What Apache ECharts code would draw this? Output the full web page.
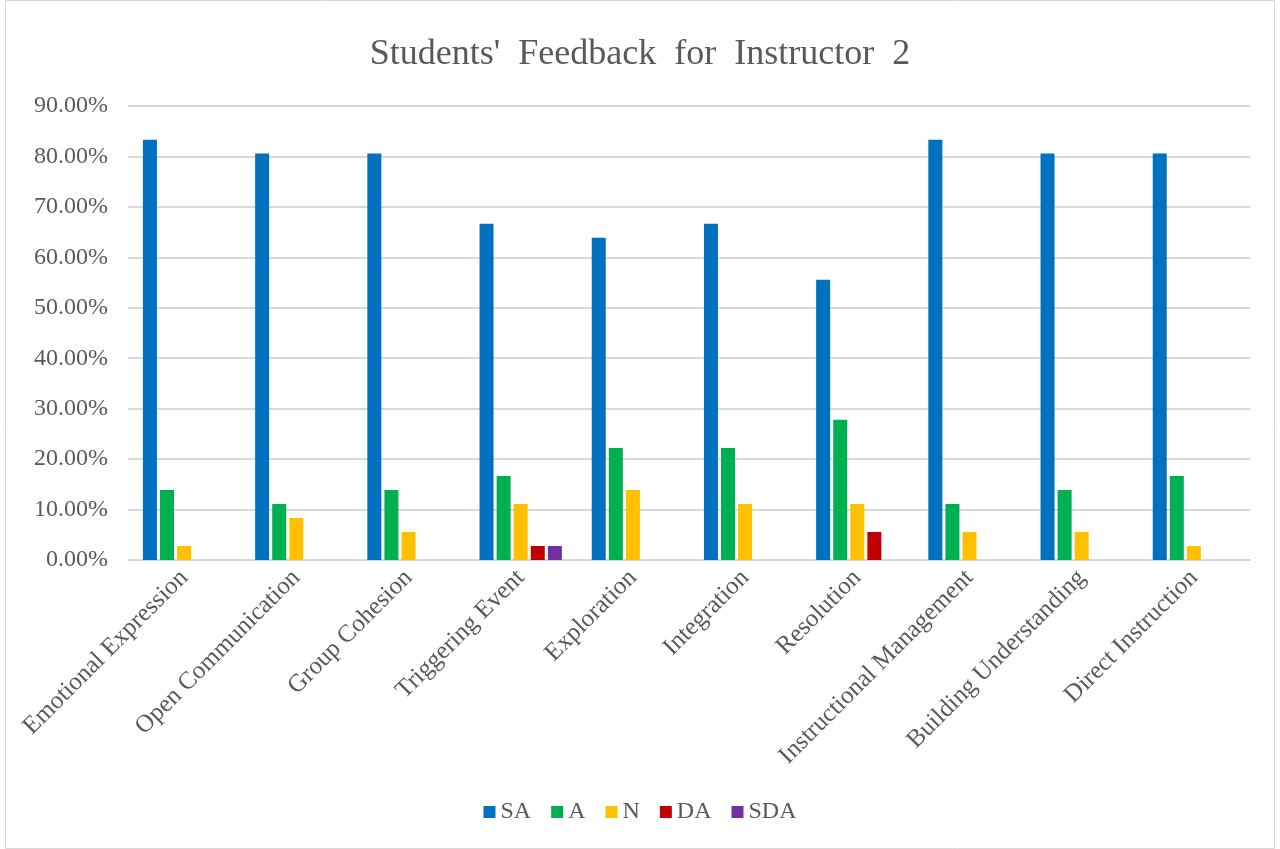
<!DOCTYPE html>
<html><head><meta charset="utf-8">
<script src="https://cdn.jsdelivr.net/npm/echarts@6/dist/echarts.min.js"></script>
<style>html,body{margin:0;padding:0;background:#fff}#c{width:1280px;height:849px}</style>
</head><body><div id="c"></div>
<script>
const categories = ['Emotional Expression','Open Communication','Group Cohesion','Triggering Event','Exploration','Integration','Resolution','Instructional Management','Building Understanding','Direct Instruction'];
const seriesNames = ['SA','A','N','DA','SDA'];
const SA  = [83.33, 80.56, 80.56, 66.67, 63.89, 66.67, 55.56, 83.33, 80.56, 80.56];
const A   = [13.89, 11.11, 13.89, 16.67, 22.22, 22.22, 27.78, 11.11, 13.89, 16.67];
const N   = [2.78, 8.33, 5.56, 11.11, 13.89, 11.11, 11.11, 5.56, 5.56, 2.78];
const DA  = [0, 0, 0, 2.78, 0, 0, 5.56, 0, 0, 0];
const SDA = [0, 0, 0, 2.78, 0, 0, 0, 0, 0, 0];
const colors = ['#0070C0','#00B050','#FFC000','#C00000','#7030A0'];
const values = [SA, A, N, DA, SDA];
const font = '"Liberation Serif","Times New Roman",serif';

const chart = echarts.init(document.getElementById('c'), null, {renderer:'canvas'});
chart.setOption({
  animation: false,
  color: colors,
  title: {
    text: "Students'  Feedback  for  Instructor  2",
    left: 'center', top: 32,
    textStyle: {fontFamily: font, fontSize: 36, fontWeight: 'normal', color: '#595959'}
  },
  graphic: [{type:'rect', shape:{x:5.5,y:0.5,width:1269,height:848}, style:{fill:'none', stroke:'#D9D9D9', lineWidth:1}, silent:true}],
  legend: {
    bottom: 20, left: 'center',
    itemWidth: 12, itemHeight: 12, itemGap: 20,
    icon: 'rect',
    textStyle: {fontFamily: font, fontSize: 24, color: '#595959'},
    data: seriesNames
  },
  grid: {left: 128, right: 30, top: 106, bottom: 289, containLabel: false},
  xAxis: {
    type: 'category', data: categories,
    axisLine: {lineStyle: {color: '#D9D9D9', width: 2}},
    axisTick: {show: false},
    axisLabel: {rotate: 45, interval: 0, margin: 14, fontFamily: font, fontSize: 25, color: '#595959'}
  },
  yAxis: {
    type: 'value', min: 0, max: 90, interval: 10,
    axisLine: {show: false}, axisTick: {show: false},
    splitLine: {lineStyle: {color: '#D9D9D9', width: 2}},
    axisLabel: {formatter: v => v.toFixed(2) + '%', fontFamily: font, fontSize: 24, color: '#595959', margin: 20}
  },
  series: seriesNames.map((n, i) => ({
    name: n, type: 'bar', data: values[i],
    barWidth: 14, barGap: '22%',
    itemStyle: {color: colors[i]}
  }))
});
</script></body></html>
